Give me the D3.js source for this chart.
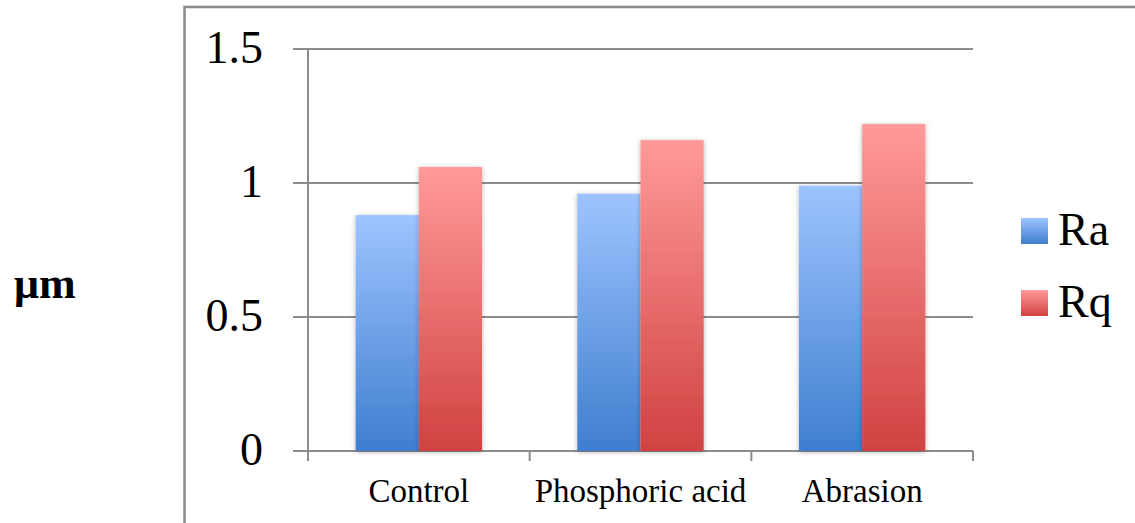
<!DOCTYPE html>
<html>
<head>
<meta charset="utf-8">
<script src="https://cdn.jsdelivr.net/npm/d3@7"></script>
<style>
  body { margin: 0; background: #fff; }
  svg { display: block; }
</style>
</head>
<body>
<div id="chart"></div>
<script>
var categories = ["Control", "Phosphoric acid", "Abrasion"];
var seriesNames = ["Ra", "Rq"];
var raValues = [0.88, 0.96, 0.99];
var rqValues = [1.06, 1.16, 1.22];
var yTicks = [0, 0.5, 1, 1.5];

var width = 1135, height = 523;
var plot = {left: 308, right: 973, top: 49, bottom: 451};

var svg = d3.select("#chart").append("svg")
    .attr("width", width)
    .attr("height", height);

var defs = svg.append("defs");
var gradColours = {Ra: ["#9ec4ff", "#3f7ecf"], Rq: ["#ff9a98", "#d04241"]};
seriesNames.forEach(function (s) {
  var g = defs.append("linearGradient")
      .attr("id", "grad" + s)
      .attr("x1", 0).attr("y1", 0).attr("x2", 0).attr("y2", 1);
  g.append("stop").attr("offset", "0%").attr("stop-color", gradColours[s][0]);
  g.append("stop").attr("offset", "100%").attr("stop-color", gradColours[s][1]);
});
var shadow = defs.append("filter").attr("id", "shadow")
    .attr("x", "-20%").attr("y", "-20%").attr("width", "140%").attr("height", "140%");
shadow.append("feDropShadow")
    .attr("dx", 0).attr("dy", 1).attr("stdDeviation", 2.5)
    .attr("flood-color", "#000").attr("flood-opacity", 0.3);

// outer chart border (runs off the right and bottom edges)
svg.append("rect")
    .attr("x", 184.5).attr("y", 7)
    .attr("width", 1000).attr("height", 600)
    .attr("fill", "none")
    .attr("stroke", "#8a8a8a")
    .attr("stroke-width", 2.5);

var y = d3.scaleLinear().domain([0, 1.5]).range([plot.bottom, plot.top]);
var x0 = d3.scaleBand().domain(categories).range([plot.left, plot.right]).paddingInner(0.43).paddingOuter(0.215);
var x1 = d3.scaleBand().domain(seriesNames).range([0, x0.bandwidth()]);

// gridlines
svg.append("g").selectAll("line")
    .data(yTicks)
    .enter().append("line")
    .attr("x1", plot.left - 15).attr("x2", plot.right)
    .attr("y1", function (d) { return y(d); })
    .attr("y2", function (d) { return y(d); })
    .attr("stroke", "#8c8c8c")
    .attr("stroke-width", 2);

// y axis line
svg.append("line")
    .attr("x1", plot.left).attr("x2", plot.left)
    .attr("y1", plot.top).attr("y2", plot.bottom)
    .attr("stroke", "#8c8c8c").attr("stroke-width", 2);

// x tick marks at category boundaries
var boundaries = d3.range(categories.length + 1).map(function (i) {
  return plot.left + i * (plot.right - plot.left) / categories.length;
});
svg.append("g").selectAll("line")
    .data(boundaries)
    .enter().append("line")
    .attr("x1", function (d) { return d; }).attr("x2", function (d) { return d; })
    .attr("y1", plot.bottom).attr("y2", plot.bottom + 10)
    .attr("stroke", "#8c8c8c").attr("stroke-width", 2);

// y tick labels
svg.append("g").selectAll("text")
    .data(yTicks)
    .enter().append("text")
    .attr("x", 263)
    .attr("y", function (d) { return y(d) + 14; })
    .attr("text-anchor", "end")
    .attr("font-family", "Liberation Serif, serif")
    .attr("font-size", "46px")
    .attr("fill", "#000")
    .text(function (d) { return d; });

// bars
var rows = categories.map(function (c, i) {
  return {cat: c, values: [{s: "Ra", v: raValues[i]}, {s: "Rq", v: rqValues[i]}]};
});
var groups = svg.append("g").selectAll("g")
    .data(rows)
    .enter().append("g")
    .attr("transform", function (d) { return "translate(" + x0(d.cat) + ",0)"; });

groups.selectAll("rect")
    .data(function (d) { return d.values; })
    .enter().append("rect")
    .attr("x", function (d) { return x1(d.s); })
    .attr("width", x1.bandwidth())
    .attr("y", function (d) { return y(d.v); })
    .attr("height", function (d) { return plot.bottom - y(d.v); })
    .attr("fill", function (d) { return "url(#grad" + d.s + ")"; })
    .attr("filter", "url(#shadow)");

// category labels
svg.append("g").selectAll("text")
    .data(categories)
    .enter().append("text")
    .attr("x", function (d) { return x0(d) + x0.bandwidth() / 2; })
    .attr("y", 502)
    .attr("text-anchor", "middle")
    .attr("font-family", "Liberation Serif, serif")
    .attr("font-size", "33px")
    .attr("fill", "#000")
    .text(function (d) { return d; });

// legend
var legend = svg.append("g").selectAll("g")
    .data(seriesNames)
    .enter().append("g")
    .attr("transform", function (d, i) { return "translate(1021," + (218 + i * 72) + ")"; });
legend.append("rect")
    .attr("width", 27).attr("height", 26)
    .attr("fill", function (d) { return "url(#grad" + d + ")"; });
legend.append("text")
    .attr("x", 37).attr("y", 27)
    .attr("font-family", "Liberation Serif, serif")
    .attr("font-size", "46px")
    .attr("fill", "#000")
    .text(function (d) { return d; });

// y axis title
svg.append("text")
    .attr("x", 14).attr("y", 298)
    .attr("font-family", "Liberation Serif, serif")
    .attr("font-weight", "bold")
    .attr("font-size", "44px")
    .attr("fill", "#000")
    .text("μm");
</script>
</body>
</html>
